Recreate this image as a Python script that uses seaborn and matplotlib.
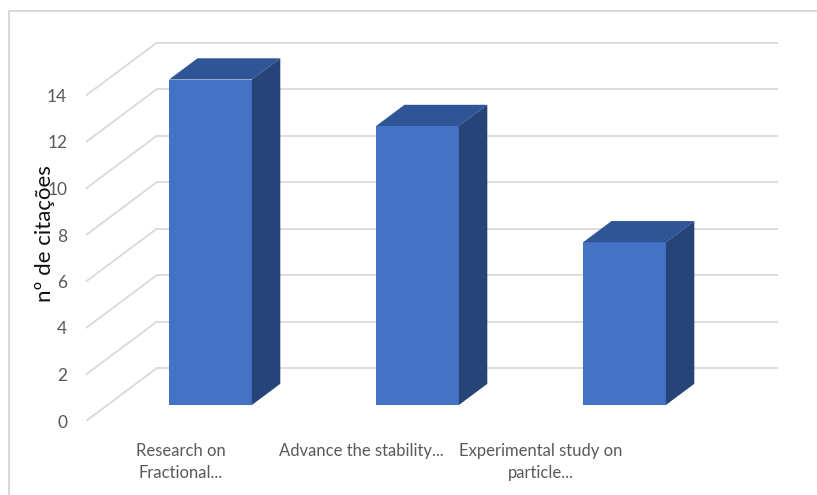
import numpy as np
import pandas as pd
import matplotlib
matplotlib.use("Agg")
import matplotlib.pyplot as plt
from matplotlib.patches import Polygon, Rectangle
import seaborn as sns

# Citation counts per article
articles = ["Research on\nFractional...", "Advance the stability...", "Experimental study on\nparticle..."]
citations = [14, 12, 7]
y_ticks = [0, 2, 4, 6, 8, 10, 12, 14]

FRONT = "#4472C4"
TOP = "#2F5597"
SIDE = "#264478"
GRID = "#D9D9D9"
TEXT = "#595959"

sns.set_theme(style="white")
plt.rcParams["font.family"] = ["Lato", "DejaVu Sans"]

W, H = 817, 495
fig = plt.figure(figsize=(W / 100, H / 100), dpi=100)

# plot region in pixels
left_px, right_px, top_px, bot_px = 86, 778, 33, 421
ax = fig.add_axes([left_px / W, 1 - bot_px / H, (right_px - left_px) / W, (bot_px - top_px) / H])

# data units per pixel
px_x = 1 / 207.0
px_y = 1 / 23.25
xlim = (-0.5 - (107 - left_px) * px_x, -0.5 + (right_px - 107) * px_x)
ylim = (-(bot_px - 405) * px_y, (405 - top_px) * px_y)

# oblique depth vector of the 3D box (front plane -> back wall)
depth = np.array([71 * px_x, 53 * px_y])
bar_front, bar_back = 0.3, 0.7
floor_front = ylim[0]

df = pd.DataFrame({"article": articles, "citations": citations})
sns.barplot(data=df, x="article", y="citations", color=FRONT, width=0.4,
            saturation=1, ax=ax, zorder=5, edgecolor="none")

# back wall and left wall gridlines
back_x0 = xlim[0] + depth[0]
for v in y_ticks:
    yb = v + floor_front + depth[1]
    ax.plot([back_x0, xlim[1]], [yb, yb], color=GRID, lw=1.3, zorder=1,
            solid_capstyle="butt")
    ax.plot([xlim[0], back_x0], [v + floor_front, yb], color=GRID, lw=1.3, zorder=1)

# top and side faces of each bar
bd = depth * (bar_back - bar_front)
for p in ax.patches:
    x0 = p.get_x()
    x1 = x0 + p.get_width()
    h = p.get_height()
    top = Polygon([(x0, h), (x1, h), (x1 + bd[0], h + bd[1]), (x0 + bd[0], h + bd[1])],
                  closed=True, facecolor=TOP, edgecolor="none", zorder=6)
    side = Polygon([(x1, 0), (x1, h), (x1 + bd[0], h + bd[1]), (x1 + bd[0], bd[1])],
                   closed=True, facecolor=SIDE, edgecolor="none", zorder=6)
    ax.add_patch(top)
    ax.add_patch(side)

ax.set_xlim(*xlim)
ax.set_ylim(*ylim)

# axis labels sit on the front plane
ax.set_yticks([v + floor_front for v in y_ticks])
ax.set_yticklabels([str(v) for v in y_ticks])
label_pos = [(181 - 107) * px_x - 0.5 + i * 180 * px_x for i in range(len(articles))]
ax.set_xticks(label_pos)
ax.set_xticklabels(articles, multialignment="center", linespacing=1.45)
ax.tick_params(axis="y", length=0, pad=13.5, labelsize=12.5, labelcolor=TEXT)
ax.tick_params(axis="x", length=0, pad=16, labelsize=12, labelcolor=TEXT)
ax.set_xlabel("")
ax.set_ylabel("")
for s in ax.spines.values():
    s.set_visible(False)

fig.text(45 / W, 1 - 234 / H, "nº de citações", rotation=90, ha="center", va="center",
         fontsize=16, color="#111111")

# chart area border
fig.add_artist(Rectangle((9 / W, -0.1), 1.2, 1 - 11 / H + 0.1, transform=fig.transFigure,
                         fill=False, edgecolor=GRID, lw=1.5))

fig.savefig("out.png", dpi=100)
